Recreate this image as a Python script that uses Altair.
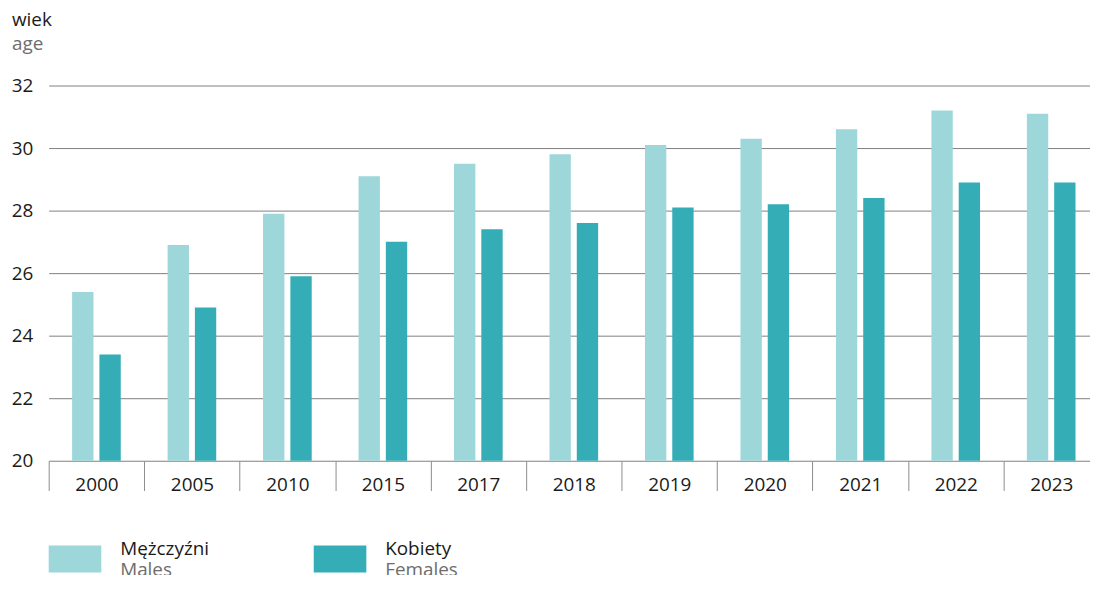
import altair as alt
import pandas as pd

years = ["2000", "2005", "2010", "2015", "2017", "2018", "2019", "2020", "2021", "2022", "2023"]
males = [25.4, 26.9, 27.9, 29.1, 29.5, 29.8, 30.1, 30.3, 30.6, 31.2, 31.1]
females = [23.4, 24.9, 25.9, 27.0, 27.4, 27.6, 28.1, 28.2, 28.4, 28.9, 28.9]
series_pl = ["Mężczyźni", "Kobiety"]
series_en = ["Males", "Females"]
colors = ["#9dd7da", "#34adb7"]
y_ticks = [20, 22, 24, 26, 28, 30, 32]
y_min = 20

rows = []
for i, yr in enumerate(years):
    rows.append({"year": yr, "pl": series_pl[0], "en": series_en[0], "value": males[i], "base": y_min})
    rows.append({"year": yr, "pl": series_pl[1], "en": series_en[1], "value": females[i], "base": y_min})
df = pd.DataFrame(rows)

FONT = "Open Sans"
SYM = "M-1,-0.51H1V0.51H-1Z"

chart = alt.Chart(df).mark_bar().encode(
    x=alt.X("year:N", sort=years,
            scale=alt.Scale(paddingInner=0, paddingOuter=0, range=[0, 1058]),
            axis=alt.Axis(title=None, tickBand="extent", tickSize=30, tickColor="#8c8c8c",
                          tickWidth=1, domain=False, grid=False, labelFont=FONT,
                          labelFontSize=19, labelColor="#1a1a1a", labelPadding=-15,
                          labelAngle=0)),
    xOffset=alt.XOffset("pl:N", sort=series_pl,
                        scale=alt.Scale(paddingInner=0.218, paddingOuter=0.858)),
    y=alt.Y("value:Q", scale=alt.Scale(domain=[20, 32], zero=False, nice=False),
            axis=alt.Axis(values=y_ticks, title=None, ticks=False, domain=False, grid=True,
                          gridColor="#7f7f7f", gridWidth=1, labelFont=FONT, labelFontSize=19,
                          labelColor="#1a1a1a", labelPadding=16)),
    y2=alt.Y2("base:Q"),
    color=alt.Color("pl:N", sort=series_pl,
                    scale=alt.Scale(domain=series_pl, range=colors),
                    legend=alt.Legend(title=None, orient="none", legendX=0, legendY=450,
                                      direction="horizontal", symbolType=SYM, symbolSize=2809,
                                      symbolStrokeWidth=0, symbolOpacity=1, labelOffset=19,
                                      labelFont=FONT, labelFontSize=19, labelColor="#1a1a1a",
                                      labelBaseline="bottom", columnPadding=105, padding=0,
                                      labelLimit=300)),
    strokeDash=alt.StrokeDash("en:N", sort=series_en,
                              scale=alt.Scale(domain=series_en, range=[[1, 0], [1, 0]]),
                              legend=alt.Legend(title=None, orient="none", legendX=0, legendY=471,
                                                direction="horizontal", symbolType=SYM,
                                                symbolSize=2809, symbolStrokeWidth=0,
                                                symbolStrokeColor="transparent",
                                                symbolFillColor="transparent", symbolOpacity=0,
                                                labelOffset=19, labelFont=FONT, labelFontSize=19,
                                                labelColor="#6d6d6d", labelBaseline="bottom",
                                                columnPadding=142, padding=0, labelLimit=300)),
).properties(
    width=1049,
    height=378,
    title=alt.TitleParams("wiek", subtitle="age", anchor="start", frame="group", dx=-37,
                          font=FONT, fontSize=19, fontWeight="normal", color="#1a1a1a",
                          subtitleFont=FONT, subtitleFontSize=19, subtitleColor="#6d6d6d",
                          offset=22.5, subtitlePadding=5),
    autosize=alt.AutoSizeParams(type="none"),
    padding={"left": 41, "top": 76, "right": 0, "bottom": 113},
).configure_view(stroke=None)

chart.save("out.html", embed_options={"renderer": "svg", "actions": False})
